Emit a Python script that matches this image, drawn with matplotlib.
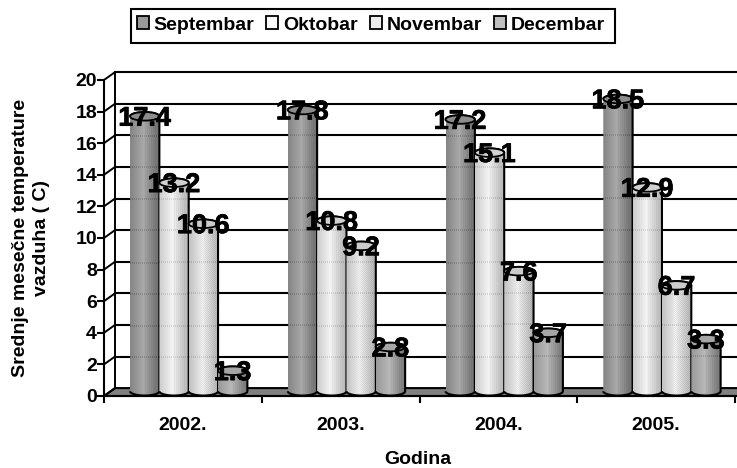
import numpy as np
import matplotlib
matplotlib.use("Agg")
import matplotlib.pyplot as plt
import matplotlib.patheffects as pe
from matplotlib.patches import Patch, PathPatch, Polygon, Ellipse, Rectangle
from matplotlib.path import Path

plt.rcParams['font.family'] = ['Liberation Sans', 'DejaVu Sans']
plt.rcParams['font.weight'] = 'bold'

# data
years = ["2002.", "2003.", "2004.", "2005."]
months = ["Septembar", "Oktobar", "Novembar", "Decembar"]
september = [17.4, 17.8, 17.2, 18.5]
oktobar = [13.2, 10.8, 15.1, 12.9]
novembar = [10.6, 9.2, 7.6, 6.7]
decembar = [1.3, 2.8, 3.7, 3.3]
y_ticks = list(range(0, 21, 2))

# shading across each cylinder: left, middle, right grey
shades = [(0.52, 0.66, 0.42), (0.80, 0.95, 0.70), (0.76, 0.92, 0.68), (0.60, 0.72, 0.45)]
top_colors = ["0.55", "0.82", "0.80", "0.65"]
legend_colors = ["0.6", "white", "0.93", "0.75"]

DX, DY = 0.07, 0.5      # depth of the 3d box, in axis units
BAR_W = 0.186
START = 0.165
BASE = 0.3
RY = 0.27
PX_PER_UNIT = 15.8

fig = plt.figure(figsize=(7.37, 4.68), dpi=100)
ax = fig.add_axes([104 / 737, 1 - 396 / 468, 631 / 737, 316 / 468])


def bar_texture(shade, dither, height):
    xs = np.linspace(0, 1, 30)
    row = np.interp(xs, [0, 0.45, 1], shade)
    rows = int(height * PX_PER_UNIT)
    tex = np.tile(row, (rows, 1))
    if dither:
        yy, xx = np.indices(tex.shape)
        tex = tex + 0.03 * (((xx + yy) % 2) * 2 - 1) * (xs > 0.4)
    else:
        tex[:, 15:27:2] -= 0.025
    # faint dotted gridlines showing through the bar
    for v in y_ticks[1:]:
        r = int((1 - (v + DY) / height) * rows)
        if 0 <= r < rows:
            tex[r:r + 2, ::2] -= 0.1
    return np.clip(tex, 0, 1)


def cylinder(x0, w, top):
    t = np.linspace(np.pi, 2 * np.pi, 40)
    xc = x0 + w / 2
    bx = xc + w / 2 * np.cos(t)
    by = BASE + RY * np.sin(t)
    pts = np.column_stack([np.r_[bx, x0 + w, x0], np.r_[by, top, top]])
    t2 = np.linspace(0, np.pi, 40)
    arc = np.column_stack([xc + w / 2 * np.cos(t2), top + RY * np.sin(t2)])
    return Path(np.r_[pts[:-2], arc])


# walls and floor
ax.add_patch(Polygon([(0, 0), (DX, DY), (4.1, DY), (4.1, 0)], closed=True, fc="0.5", ec="black",
                     lw=1.5, clip_on=False, zorder=1))
for v in y_ticks:
    ax.plot([0, DX], [v, v + DY], color="black", lw=1.4, clip_on=False, zorder=1.5)
    if v > 0:
        ax.plot([DX, 4.1], [v + DY, v + DY], color="black", lw=1.5, clip_on=False, zorder=1.5)
ax.plot([DX, DX], [DY, 20 + DY], color="black", lw=1.4, clip_on=False, zorder=1.5)

series = [september, oktobar, novembar, decembar]
for i, values in enumerate(series):
    for j, val in enumerate(values):
        x0 = j + START + i * BAR_W
        top = val + BASE
        path = cylinder(x0, BAR_W, top)
        tex = bar_texture(shades[i], i == 2, top + RY)
        im = ax.imshow(tex, extent=(x0, x0 + BAR_W, 0, top + RY), aspect="auto", cmap="gray",
                       vmin=0, vmax=1, interpolation="nearest", zorder=3 + i * 0.1)
        im.set_clip_path(PathPatch(path, transform=ax.transData))
        ax.add_patch(PathPatch(path, fc="none", ec="black", lw=1.5, zorder=3.01 + i * 0.1))
        ax.add_patch(Ellipse((x0 + BAR_W / 2, top), BAR_W, 2 * RY, fc=top_colors[i], ec="black",
                             lw=1.3, zorder=3.02 + i * 0.1))

for i, values in enumerate(series):
    for j, val in enumerate(values):
        t = ax.text(j + START + (i + 0.5) * BAR_W, val + BASE - 0.15, f"{val:.1f}", ha="center",
                    va="center", fontsize=19.5, fontweight="bold", color="black", zorder=6, clip_on=False)
        t.set_path_effects([pe.withStroke(linewidth=0.5, foreground="black")])

ax.set_xlim(0, 4)
ax.set_ylim(0, 20)
ax.patch.set_alpha(0)
for s in ["top", "right"]:
    ax.spines[s].set_visible(False)
for s in ["left", "bottom"]:
    ax.spines[s].set_linewidth(1.5)
    ax.spines[s].set_zorder(2)
ax.set_yticks(y_ticks)
ax.set_xticks(range(5))
ax.set_xticklabels([])
ax.set_xticks(np.arange(4) + 0.5, years, minor=True)
ax.tick_params(axis="x", which="minor", length=0, labelsize=14, pad=15)
ax.tick_params(axis="x", which="major", length=5, width=1.5)
ax.tick_params(axis="y", length=5, width=1.5, labelsize=14, pad=0)

fig.text(418 / 737, 1 - 460 / 468, "Godina", ha="center", va="center", fontsize=14, fontweight="bold")
fig.text(31 / 737, 1 - 238 / 468, "Srednje mesečne temperature\nvazduha ( C)", rotation=90, ha="center",
         va="center", fontsize=14, fontweight="bold", linespacing=1.35, multialignment="center")

handles = [Patch(fc=c, ec="black", lw=1.3) for c in legend_colors]
leg = fig.legend(handles, months, ncol=4, loc="center", bbox_to_anchor=(371 / 737, 1 - 25 / 468),
                 fontsize=14, frameon=False, handlelength=0.62, handleheight=0.62, handletextpad=0.25,
                 columnspacing=0.62, borderpad=0, borderaxespad=0)
fig.add_artist(Rectangle((131 / 737, 1 - 43 / 468), 484 / 737, 34 / 468, transform=fig.transFigure,
                         fc="none", ec="black", lw=1.5))

fig.savefig("out.png", dpi=100)
